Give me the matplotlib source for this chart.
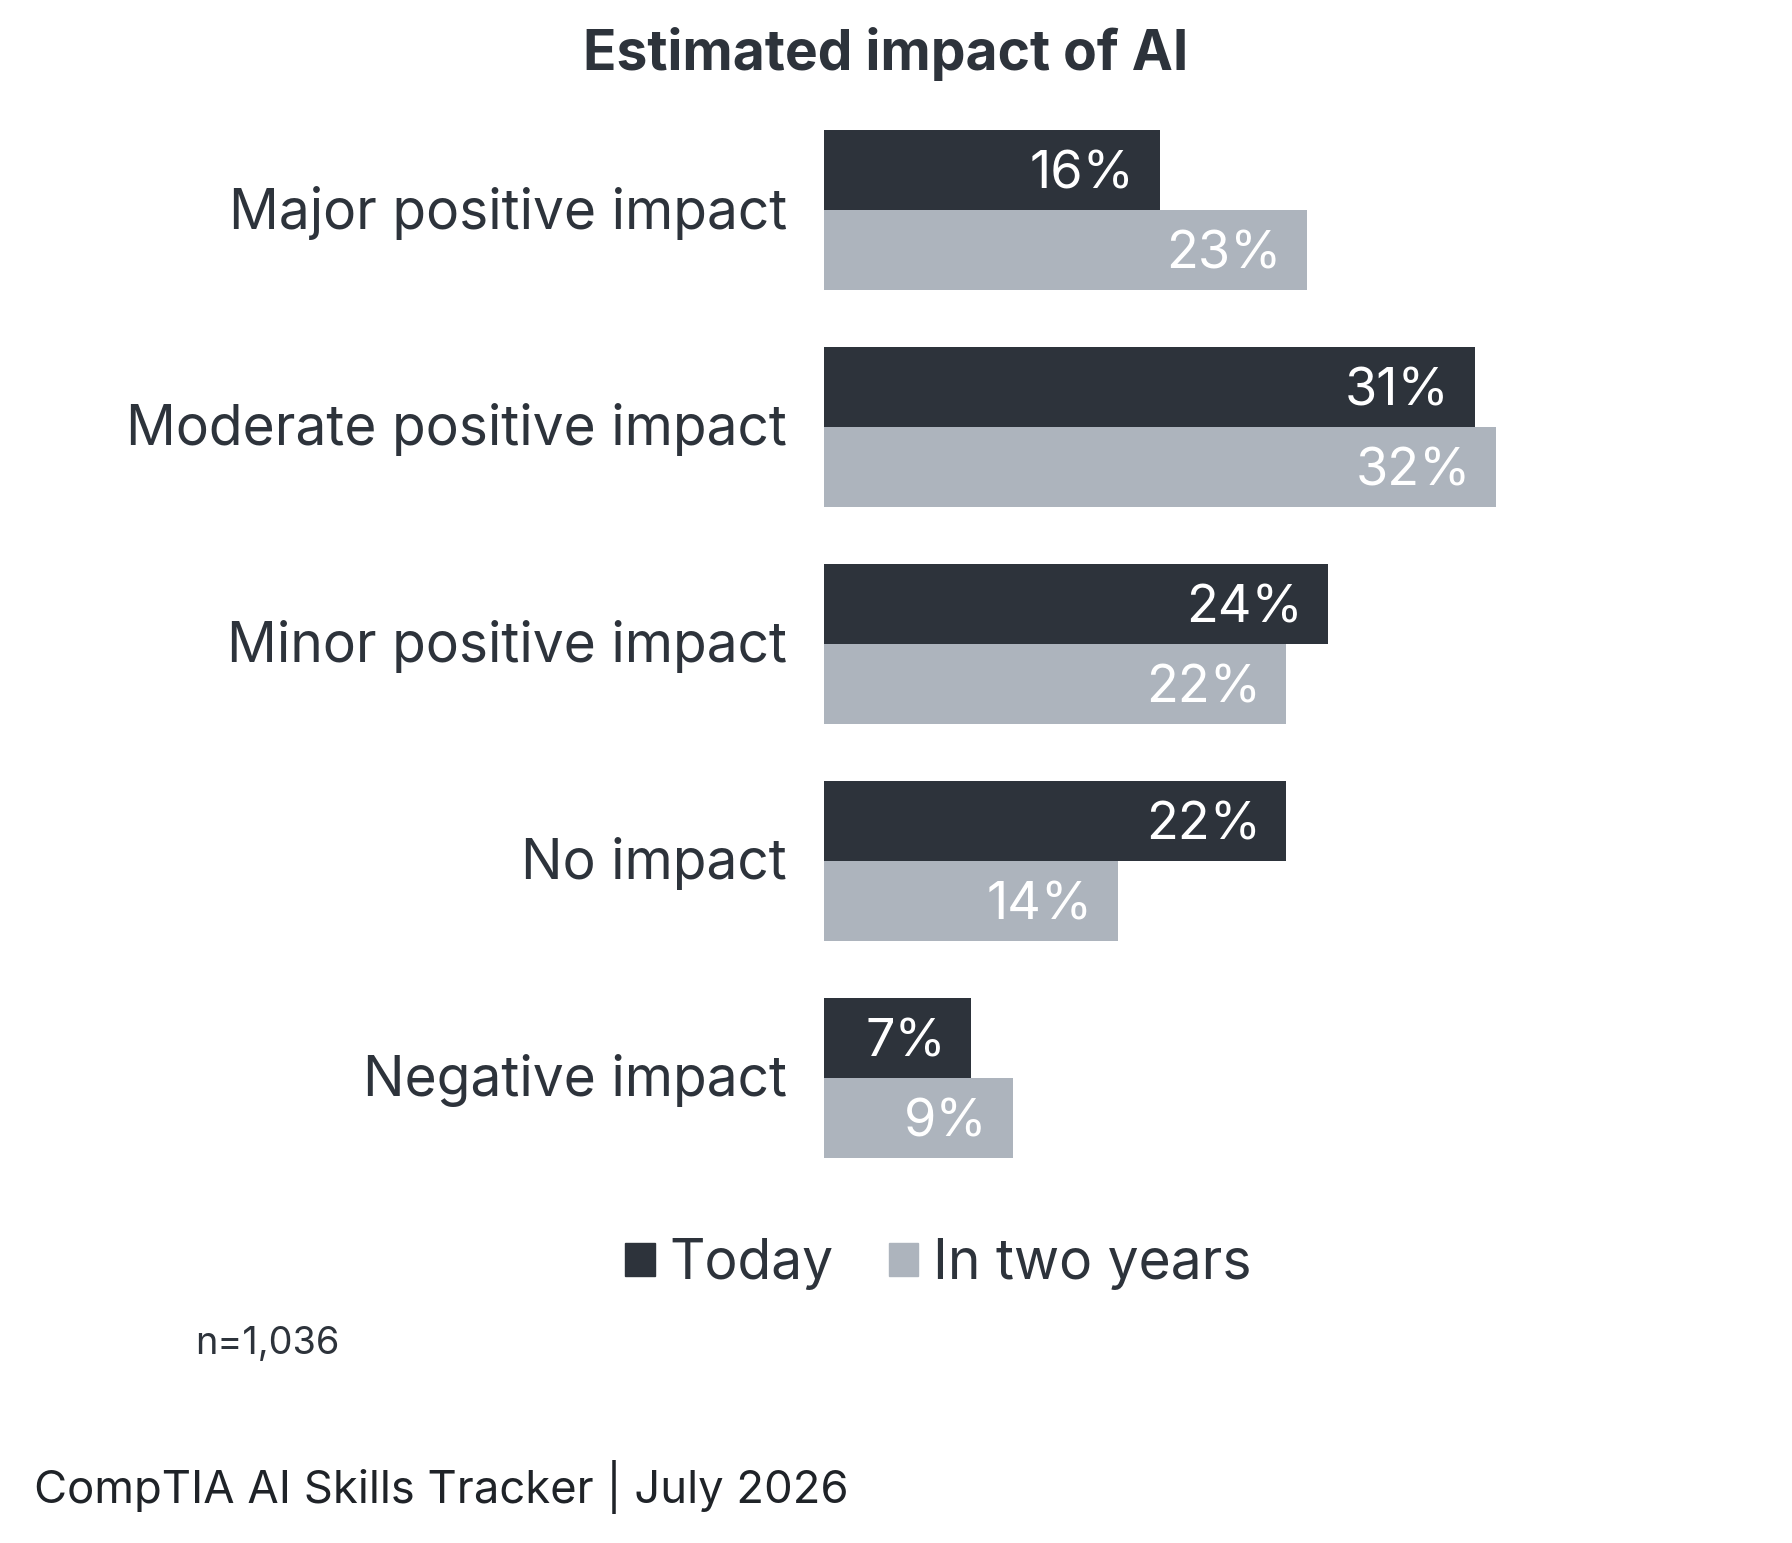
import matplotlib.pyplot as plt
from matplotlib.patches import Patch
import numpy as np

plt.rcParams['font.family'] = ['Inter', 'DejaVu Sans']

# data
categories = ['Major positive impact', 'Moderate positive impact', 'Minor positive impact',
              'No impact', 'Negative impact']
today = [16, 31, 24, 22, 7]
two_years = [23, 32, 22, 14, 9]

dark = '#2d333b'
light = '#adb4bd'
txt = '#2d333b'

fig = plt.figure(figsize=(17.92, 15.43), dpi=100)
ax = fig.add_axes([0.4598, 0.231, 0.46875, 0.7032])

y = np.arange(len(categories))
h = 0.3687
b1 = ax.barh(y - h / 2, today, height=h, color=dark)
b2 = ax.barh(y + h / 2, two_years, height=h, color=light)

# value labels inside the bar ends
for bars, vals in ((b1, today), (b2, two_years)):
    for r, v in zip(bars, vals):
        ax.text(r.get_width() - 1.2, r.get_y() + r.get_height() / 2 + 0.022, f'{v}%',
                ha='right', va='center', color='white', fontsize=37.6)

ax.set_xlim(0, 40)
ax.set_ylim(len(categories) - 0.5, -0.5)
ax.set_yticks(y - 0.012)
ax.set_yticklabels(categories, fontsize=39.7, color=txt)
ax.tick_params(axis='y', length=0, pad=26.6)
ax.set_xticks([])
for s in ax.spines.values():
    s.set_visible(False)

fig.text(0.494, 0.965, 'Estimated impact of AI', ha='center', va='center',
         fontsize=39.7, fontweight='bold', color=txt)

handles = [Patch(color=dark, label='Today'), Patch(color=light, label='In two years')]
fig.legend(handles=handles, loc='center', bbox_to_anchor=(0.5236, 0.181), ncol=2,
           frameon=False, fontsize=39.7, handlelength=0.54, handleheight=0.54,
           handletextpad=0.27, columnspacing=1.0, labelcolor=txt)

fig.text(0.109, 0.129, 'n=1,036', ha='left', va='center', fontsize=27.3, color=txt)
fig.text(0.019, 0.036, 'CompTIA AI Skills Tracker | July 2026', ha='left', va='center',
         fontsize=32.7, color='#1f2328')

fig.savefig('out.png', dpi=100)
